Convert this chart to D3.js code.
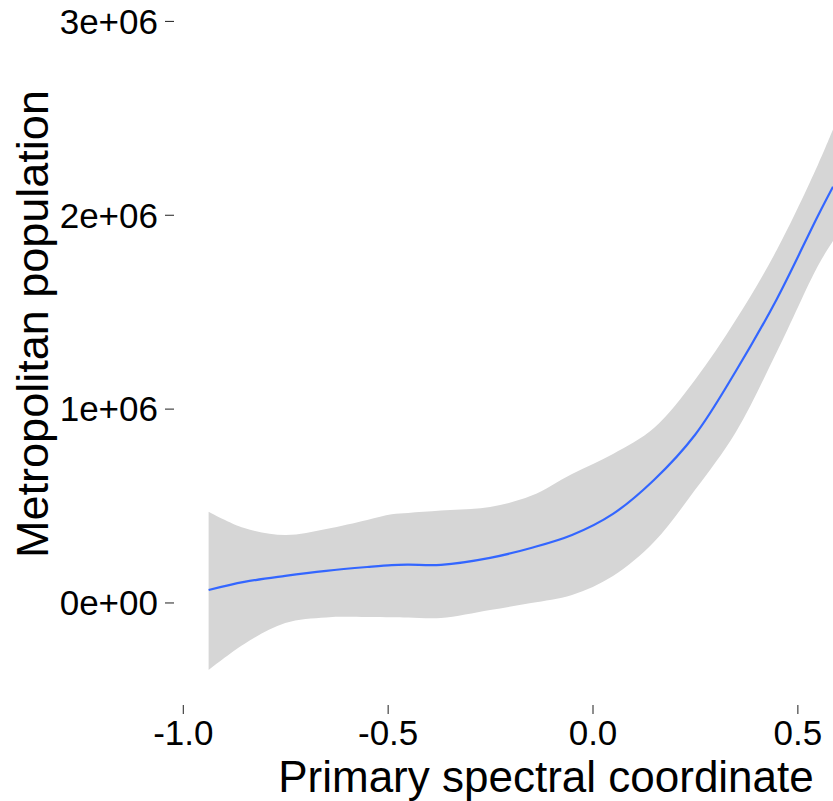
<!DOCTYPE html>
<html>
<head>
<meta charset="utf-8">
<script src="https://cdn.jsdelivr.net/npm/d3@7"></script>
<style>
  html, body { margin: 0; padding: 0; background: #ffffff; }
  svg { display: block; }
  text { font-family: "Liberation Sans", Arial, Helvetica, sans-serif; fill: #000; }
</style>
</head>
<body>
<svg id="chart" width="833" height="801"></svg>
<script>
// Smoothed fit of metropolitan population against the primary spectral coordinate
const coordX = [-0.937, -0.85, -0.75, -0.65, -0.55, -0.49, -0.45, -0.37, -0.25, -0.15, -0.05, 0.05, 0.15, 0.25, 0.35, 0.45, 0.55, 0.587];
const fitPop = [64500, 106000, 137000, 163000, 183000, 193000, 195000, 194000, 230000, 281000, 348000, 457000, 632000, 864000, 1194000, 1566000, 1994000, 2145000];
const upperPop = [468500, 384000, 348000, 379000, 426000, 455000, 462000, 474000, 493000, 550000, 663000, 766000, 900000, 1148000, 1458000, 1819000, 2257000, 2440000];
const lowerPop = [-348000, -214000, -106000, -77000, -75000, -76000, -77000, -80000, -39000, -3000, 39000, 137000, 312000, 580000, 880000, 1293000, 1736000, 1865000];

const xTicks = [-1.0, -0.5, 0.0, 0.5];
const yTicks = [0, 1e6, 2e6, 3e6];
const xTickLabels = ["-1.0", "-0.5", "0.0", "0.5"];
const yTickLabels = ["0e+00", "1e+06", "2e+06", "3e+06"];

const xTitle = "Primary spectral coordinate";
const yTitle = "Metropolitan population";

const svg = d3.select("#chart");
const panel = { left: 174, right: 833, top: 0, bottom: 705 };

const x = d3.scaleLinear().domain([-1.0215, 0.587]).range([panel.left, panel.right]);
const y = d3.scaleLinear().domain([-529000, 3108000]).range([panel.bottom, panel.top]);

const rows = coordX.map((cx, i) => ({ x: cx, fit: fitPop[i], lo: lowerPop[i], hi: upperPop[i] }));

svg.append("defs").append("clipPath").attr("id", "panelClip")
  .append("rect")
  .attr("x", panel.left).attr("y", panel.top)
  .attr("width", panel.right - panel.left).attr("height", panel.bottom - panel.top);

const plot = svg.append("g").attr("clip-path", "url(#panelClip)");

const curve = d3.curveCatmullRom.alpha(0.5);

// confidence ribbon
plot.append("path")
  .datum(rows)
  .attr("fill", "#d6d6d6")
  .attr("stroke", "none")
  .attr("d", d3.area().curve(curve).x(d => x(d.x)).y0(d => y(d.lo)).y1(d => y(d.hi)));

// fitted curve
plot.append("path")
  .datum(rows)
  .attr("fill", "none")
  .attr("stroke", "#3366FF")
  .attr("stroke-width", 2.2)
  .attr("d", d3.line().curve(curve).x(d => x(d.x)).y(d => y(d.fit)));

// Axes: ticks only, no axis lines
const xAxis = d3.axisBottom(x).tickValues(xTicks).tickSize(9).tickPadding(9)
  .tickFormat((d, i) => xTickLabels[i]);
const gx = svg.append("g").attr("transform", `translate(0,${panel.bottom})`).call(xAxis);
gx.select(".domain").remove();
gx.selectAll(".tick line").attr("stroke", "#333333").attr("stroke-width", 1.1);
gx.selectAll(".tick text").attr("font-size", 35).attr("fill", "#000")
  .attr("font-family", "'Liberation Sans', Arial, Helvetica, sans-serif")
  .attr("dy", null).attr("y", 40);

const yAxis = d3.axisLeft(y).tickValues(yTicks).tickSize(9).tickPadding(8)
  .tickFormat((d, i) => yTickLabels[i]);
const gy = svg.append("g").attr("transform", `translate(${panel.left},0)`).call(yAxis);
gy.select(".domain").remove();
gy.selectAll(".tick line").attr("stroke", "#333333").attr("stroke-width", 1.1);
gy.selectAll(".tick text").attr("font-size", 35).attr("fill", "#000")
  .attr("font-family", "'Liberation Sans', Arial, Helvetica, sans-serif")
  .attr("x", -16).attr("dy", "0.35em");

// Axis titles
svg.append("text")
  .attr("x", 546).attr("y", 792)
  .attr("text-anchor", "middle")
  .attr("font-size", 44)
  .text(xTitle);

svg.append("text")
  .attr("transform", "translate(48,324) rotate(-90)")
  .attr("text-anchor", "middle")
  .attr("font-size", 45)
  .text(yTitle);
</script>
</body>
</html>
